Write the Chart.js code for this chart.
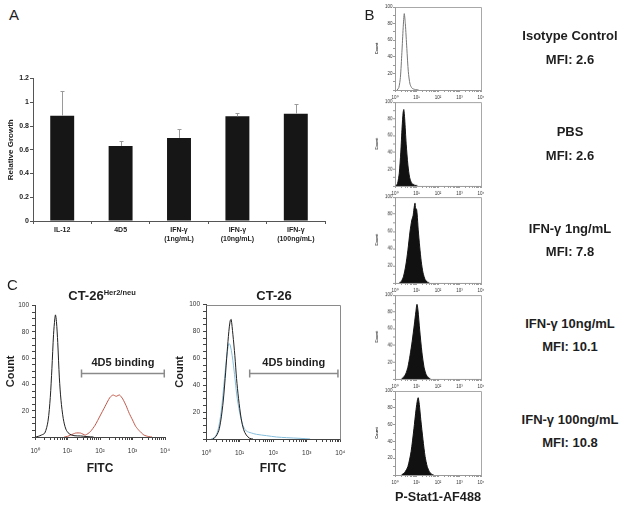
<!DOCTYPE html>
<html><head><meta charset="utf-8">
<script src="https://cdn.jsdelivr.net/npm/chart.js@4.4.0/dist/chart.umd.min.js"></script>
<style>
html,body{margin:0;padding:0;background:#fff;}
body{width:624px;height:509px;position:relative;overflow:hidden;font-family:Arial,"Liberation Sans",Helvetica,sans-serif;color:#1e1e1e;}
</style></head><body>
<script>
// ---------- Panel A data ----------
const growthCategories = [['IL-12'], ['4D5'], ['IFN-γ', '(1ng/mL)'], ['IFN-γ', '(10ng/mL)'], ['IFN-γ', '(100ng/mL)']];
const growthMeans = [0.887, 0.632, 0.700, 0.882, 0.904];
const growthSD = [0.208, 0.042, 0.072, 0.025, 0.081];

// ---------- Panel C data (FITC intensity, count) ----------
const her2IsoFitc  = [1.0, 1.26, 1.58, 2.0, 2.51, 2.95, 3.31, 3.72, 4.07, 4.27, 4.57, 5.01, 5.62, 6.31, 7.41, 8.91, 11.2, 15.8, 25.1, 39.8, 63.1];
const her2IsoCount = [0, 0.5, 1.5, 3, 12, 30, 52, 78, 90, 93, 88, 72, 45, 28, 14, 6, 2.5, 1, 0.8, 0.3, 0];
const her2AbFitc  = [7.94, 10, 12.6, 17.8, 25.1, 35.5, 50.1, 70.8, 100, 141, 200, 251, 316, 398, 501, 631, 794, 1000, 1259, 1585, 2239, 3162, 3981];
const her2AbCount = [0, 0.5, 1.5, 3, 3, 1.5, 4, 9, 16, 23, 30, 32, 31, 32, 29, 24, 18, 13, 8, 5, 1.5, 0.3, 0];
const ct26IsoFitc  = [1.58, 2.0, 2.51, 3.16, 3.72, 4.27, 4.79, 5.25, 5.62, 6.31, 7.24, 8.13, 9.33, 11.2, 13.2, 15.8, 20.0, 25.1];
const ct26IsoCount = [0, 2, 8, 25, 45, 65, 80, 88, 89, 78, 62, 45, 30, 15, 7, 3, 0.5, 0];
const ct26AbFitc  = [1.41, 1.78, 2.24, 2.82, 3.55, 4.17, 4.79, 5.25, 6.03, 7.08, 8.32, 10, 12.6, 15.8, 22.4, 31.6, 63.1, 126, 251, 631, 1259];
const ct26AbCount = [0, 1, 6, 20, 45, 62, 71, 70, 62, 48, 32, 20, 10, 6, 4.5, 3.5, 2.5, 1.5, 1, 0.5, 0];
const gateLabel = '4D5 binding';
const her2Gate = [27, 9500];
const ct26Gate = [20, 8500];
const gateLevel = 49;

// ---------- Panel B data (P-Stat1-AF488 intensity, count) ----------
const conditionLabels = ['Isotype Control', 'PBS', 'IFN-γ 1ng/mL', 'IFN-γ 10ng/mL', 'IFN-γ 100ng/mL'];
const mfiValues = [2.6, 2.6, 7.8, 10.1, 10.8];
const isoStatFitc  = [1.26, 1.51, 1.78, 2.09, 2.40, 2.69, 3.02, 3.55, 4.17, 5.01, 6.31, 8.91, 12.6];
const isoStatCount = [0, 3, 15, 45, 75, 92, 80, 50, 22, 7, 2, 0.5, 0];
const pbsStatFitc  = [1.12, 1.32, 1.58, 1.86, 2.14, 2.40, 2.57, 2.82, 3.31, 3.98, 4.79, 6.03, 7.94, 11.2];
const pbsStatCount = [0, 3, 15, 40, 70, 88, 91, 80, 50, 25, 10, 3, 1, 0];
const ifn1StatFitc  = [1.58, 2.0, 2.51, 3.16, 3.98, 5.01, 6.03, 6.92, 7.59, 8.51, 9.12, 10, 10.7, 12.0, 14.1, 16.6, 20.0, 25.1, 31.6, 39.8];
const ifn1StatCount = [0, 2, 8, 20, 38, 60, 73, 78, 86, 93, 86, 86, 80, 62, 42, 25, 12, 4, 1, 0];
const ifn10StatFitc  = [2.0, 2.51, 3.16, 3.98, 5.01, 6.31, 7.94, 9.33, 10.5, 11.7, 14.1, 17.8, 22.4, 28.2, 35.5, 44.7];
const ifn10StatCount = [0, 2, 6, 14, 28, 45, 65, 80, 89, 82, 58, 32, 14, 5, 1.5, 0];
const ifn100StatFitc  = [2.0, 2.82, 3.98, 5.62, 7.59, 9.55, 11.2, 12.0, 13.5, 15.8, 20.0, 25.1, 31.6, 39.8, 50.1, 63.1];
const ifn100StatCount = [0, 3, 10, 28, 55, 78, 90, 92, 84, 66, 42, 22, 10, 4, 1, 0];

// ---------- Tick labels ----------
const fitcMajor = [1, 10, 100, 1000, 10000];
const fitcLabels = ['10⁰', '10¹', '10²', '10³', '10⁴'];
const panelLetters = ['A', 'B', 'C'];

const FONT = "Arial, 'Liberation Sans', Helvetica, sans-serif";
Chart.defaults.font.family = FONT;
Chart.defaults.color = '#1e1e1e';
Chart.defaults.animation = false;

const fitcTickValues = [];
for (let d = 0; d < 4; d++) for (let k = 1; k < 10; k++) fitcTickValues.push(k * fitcMajor[d]);
fitcTickValues.push(10000);
function fitcLabelFor(v) { const i = fitcMajor.indexOf(v); return i >= 0 ? fitcLabels[i] : ''; }
function pts(xs, ys) { return xs.map((x, i) => ({ x: x, y: ys[i] })); }

function place(x, y, w, h) {
  const c = document.createElement('canvas');
  c.width = w; c.height = h;
  c.style.cssText = 'position:absolute;left:' + x + 'px;top:' + y + 'px;width:' + w + 'px;height:' + h + 'px;';
  document.body.appendChild(c);
  return c;
}
function addText(html, cx, cy, size, weight, extra) {
  const d = document.createElement('div');
  d.innerHTML = html;
  d.style.cssText = 'position:absolute;left:' + cx + 'px;top:' + cy + 'px;transform:translate(-50%,-50%);font-size:' + size +
    'px;font-weight:' + weight + ';line-height:1;white-space:nowrap;color:#1e1e1e;' + (extra || '');
  document.body.appendChild(d);
}

// ---------- Panel A ----------
const errorBarPlugin = {
  id: 'errbars',
  afterDatasetsDraw(chart) {
    const meta = chart.getDatasetMeta(0), ys = chart.scales.y, ctx = chart.ctx;
    ctx.save(); ctx.strokeStyle = '#9a9a9a'; ctx.lineWidth = 1;
    meta.data.forEach((bar, i) => {
      const yTop = Math.round(ys.getPixelForValue(growthMeans[i] + growthSD[i])) + 0.5;
      const x = Math.round(bar.x) + 0.5;
      ctx.beginPath(); ctx.moveTo(x, bar.y); ctx.lineTo(x, yTop);
      ctx.moveTo(x - 2, yTop); ctx.lineTo(x + 2, yTop); ctx.stroke();
    });
    ctx.restore();
  }
};
new Chart(place(0, 70, 330, 215), {
  type: 'bar',
  data: { labels: growthCategories, datasets: [{ data: growthMeans, backgroundColor: '#161616', borderWidth: 0, barPercentage: 1, categoryPercentage: 0.41 }] },
  options: {
    responsive: false, animation: false,
    layout: { padding: { top: 8.5, right: 5, left: 0, bottom: 0 } },
    plugins: { legend: { display: false }, tooltip: { enabled: false } },
    scales: {
      x: {
        afterFit: s => { s.height = 64; s.paddingLeft = 0; s.paddingRight = 0; },
        border: { color: '#555' },
        grid: { offset: true, drawOnChartArea: false, tickLength: 3, color: '#555' },
        ticks: { font: { size: 7, weight: 'bold', lineHeight: 1.3 }, padding: 1.5, color: '#222', maxRotation: 0, autoSkip: false }
      },
      y: {
        min: 0, max: 1.2,
        afterFit: s => { s.width = 33; s.paddingTop = 0; s.paddingBottom = 0; },
        border: { color: '#555' },
        grid: { drawOnChartArea: false, tickLength: 3, color: '#555' },
        ticks: { stepSize: 0.2, font: { size: 7, weight: 'bold' }, padding: 1, color: '#222', callback: v => String(+v.toFixed(1)) },
        title: { display: true, text: 'Relative Growth', font: { size: 8, weight: 'bold' }, padding: { top: 6, bottom: 0 }, color: '#222' }
      }
    }
  },
  plugins: [errorBarPlugin]
});

// ---------- Histogram helper ----------
function framePlugin(o) {
  return {
    id: 'frame',
    afterDatasetsDraw(chart) {
      const ctx = chart.ctx, a = chart.chartArea;
      ctx.save();
      if (o.box) {
        ctx.strokeStyle = o.box; ctx.lineWidth = 1;
        ctx.beginPath();
        const l = Math.round(a.left) + 0.5, r = Math.round(a.right) + 0.5, t = Math.round(a.top) + 0.5, b = Math.round(a.bottom) + 0.5;
        ctx.moveTo(l, t); ctx.lineTo(r, t); ctx.lineTo(r, b); ctx.stroke();
      }
      if (o.gate) {
        const xs = chart.scales.x, ys = chart.scales.y;
        const x0 = xs.getPixelForValue(o.gate[0]), x1 = xs.getPixelForValue(o.gate[1]);
        const y = Math.round(ys.getPixelForValue(gateLevel)) + 0.5;
        ctx.strokeStyle = '#8a8a8a'; ctx.lineWidth = 1.5;
        ctx.beginPath(); ctx.moveTo(x0, y); ctx.lineTo(x1, y);
        ctx.moveTo(x0, y - 4); ctx.lineTo(x0, y + 4);
        ctx.moveTo(x1, y - 4); ctx.lineTo(x1, y + 4);
        ctx.stroke();
      }
      ctx.restore();
    }
  };
}
function histChart(c, o) {
  return new Chart(c, {
    type: 'line',
    data: { datasets: o.datasets },
    options: {
      responsive: false, animation: false,
      layout: { padding: { top: o.padTop, right: o.padRight, left: 0, bottom: 0 } },
      plugins: { legend: { display: false }, tooltip: { enabled: false } },
      elements: { point: { radius: 0 }, line: { tension: 0.3, borderWidth: 1 } },
      scales: {
        x: {
          type: 'logarithmic', min: 1, max: 10000,
          afterBuildTicks: s => { s.ticks = fitcTickValues.map(v => ({ value: v })); },
          afterFit: s => { s.height = o.xh; s.paddingLeft = 0; s.paddingRight = 0; },
          border: { color: o.axis, width: 1 },
          grid: { drawOnChartArea: false, tickLength: o.tickLen, color: o.axis },
          ticks: { autoSkip: false, maxRotation: 0, minRotation: 0, padding: o.xPad, font: { size: o.tickSize }, color: '#333', callback: v => fitcLabelFor(v) },
          title: o.xTitle ? { display: true, text: o.xTitle, font: { size: o.xTitleSize, weight: 'bold' }, padding: { top: 0, bottom: o.xTitlePad }, color: '#1e1e1e' } : { display: false }
        },
        y: {
          min: 0, max: 100,
          afterBuildTicks: s => { s.ticks = o.yTicks.map(v => ({ value: v })); },
          afterFit: s => { s.width = o.yw; s.paddingTop = 0; s.paddingBottom = 0; },
          border: { color: o.axis, width: 1 },
          grid: { drawOnChartArea: false, tickLength: o.tickLen, color: o.axis },
          ticks: { autoSkip: false, padding: o.yPad, font: { size: o.tickSize }, color: '#333', callback: v => (v > 0 && v % 20 === 0) ? String(v) : '' },
          title: { display: true, text: 'Count', font: { size: o.yTitleSize, weight: 'bold' }, padding: { top: o.yTitlePad, bottom: 0 }, color: '#1e1e1e' }
        }
      }
    },
    plugins: [framePlugin({ box: o.box, gate: o.gate })]
  });
}

// ---------- Panel C ----------
const countTicksC = []; for (let v = 0; v <= 100; v += 5) countTicksC.push(v);
const cLeft = histChart(place(0, 296, 176, 184), {
  datasets: [
    { data: pts(her2IsoFitc, her2IsoCount), borderColor: '#222', fill: false },
    { data: pts(her2AbFitc, her2AbCount), borderColor: '#c0584a', fill: false, tension: 0.2 }
  ],
  padTop: 9.7, padRight: 11, yw: 35, xh: 43, axis: '#444', tickLen: 3, xPad: 7.5, yPad: 3, tickSize: 6.5,
  xTitle: 'FITC', xTitleSize: 12, xTitlePad: 3.8, yTitleSize: 11, yTitlePad: 4.1, yTicks: countTicksC, gate: her2Gate
});
const cRight = histChart(place(170, 295, 183, 185), {
  datasets: [
    { data: pts(ct26IsoFitc, ct26IsoCount), borderColor: '#222', fill: false },
    { data: pts(ct26AbFitc, ct26AbCount), borderColor: '#86bedc', fill: false }
  ],
  padTop: 9.7, padRight: 12.7, yw: 36, xh: 41, axis: '#444', tickLen: 3, xPad: 7.5, yPad: 3, tickSize: 6.5,
  xTitle: 'FITC', xTitleSize: 12, xTitlePad: 3.8, yTitleSize: 11, yTitlePad: 3.4, yTicks: countTicksC, gate: ct26Gate, box: '#8a8a8a'
});

// ---------- Panel B ----------
const countTicksB = []; for (let v = 0; v <= 100; v += 10) countTicksB.push(v);
const bSeries = [
  [isoStatFitc, isoStatCount, false],
  [pbsStatFitc, pbsStatCount, true],
  [ifn1StatFitc, ifn1StatCount, true],
  [ifn10StatFitc, ifn10StatCount, true],
  [ifn100StatFitc, ifn100StatCount, true]
];
const bTops = [6.7, 102.3, 197.3, 295.3, 391];
const bBottoms = [90.3, 185.7, 282.7, 379, 475];
bSeries.forEach((s, i) => {
  const last = i === bSeries.length - 1;
  const xh = last ? 32 : 12;
  const top = bTops[i] - 5;
  const h = bBottoms[i] - top + xh;
  histChart(place(372, top, 118, h), {
    datasets: [{ data: pts(s[0], s[1]), borderColor: s[2] ? '#111' : '#777', backgroundColor: '#111', fill: s[2] ? 'origin' : false, tension: 0.25 }],
    padTop: 5, padRight: 9, yw: 23, xh: xh, axis: '#999', tickLen: 2, xPad: 3.5, yPad: 0.5, tickSize: 4.5,
    xTitle: last ? 'P-Stat1-AF488' : null, xTitleSize: 13, xTitlePad: 1.5, yTitleSize: 4, yTitlePad: 2.6, yTicks: countTicksB, box: '#a8a8a8'
  });
});

// ---------- Text ----------
addText(panelLetters[0], 14, 14, 15, 'normal');
addText(panelLetters[1], 369.5, 14, 15, 'normal');
addText(panelLetters[2], 12.5, 284, 15, 'normal');

addText('CT-26<span style="font-size:7.5px;vertical-align:5px">Her2/neu</span>', 102, 295, 13, 'bold');
addText('CT-26', 274, 295, 13, 'bold');
[[cLeft, her2Gate], [cRight, ct26Gate]].forEach(([ch, g]) => {
  const xs = ch.scales.x, ys = ch.scales.y;
  const cx = ch.canvas.offsetLeft + (xs.getPixelForValue(g[0]) + xs.getPixelForValue(g[1])) / 2;
  const cy = ch.canvas.offsetTop + ys.getPixelForValue(gateLevel) - 11;
  addText(gateLabel, cx, cy, 11, 'bold');
});

const condY = [35, 131, 227.7, 323.3, 419.3];
const mfiY = [59.3, 155, 251, 346, 441.7];
conditionLabels.forEach((t, i) => {
  addText(t, 570, condY[i], 13, 'bold');
  addText('MFI: ' + mfiValues[i].toFixed(1), 570, mfiY[i], 13, 'bold');
});
</script>
</body></html>
